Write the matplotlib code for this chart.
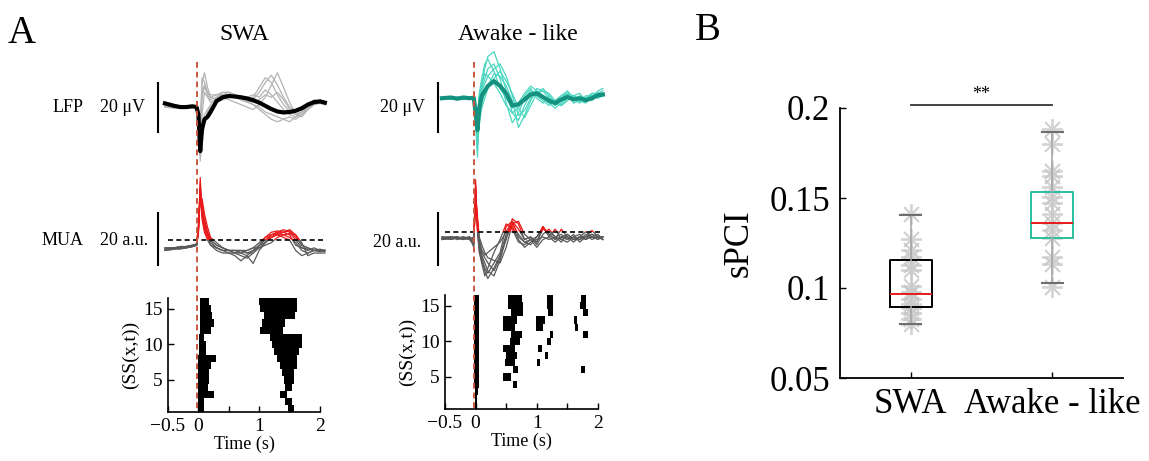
import numpy as np
import matplotlib.pyplot as plt
from matplotlib.lines import Line2D
from matplotlib.patches import Rectangle
import matplotlib.transforms as mtransforms

plt.rcParams['font.family'] = ['Liberation Serif', 'DejaVu Serif']

# ---------- data ----------
t = [-0.55, -0.4, -0.3, -0.2, -0.1, -0.03, 0.0, 0.03, 0.06, 0.1, 0.15, 0.2, 0.3, 0.4, 0.5,
     0.6, 0.7, 0.8, 0.9, 1.0, 1.1, 1.2, 1.3, 1.4, 1.5, 1.6, 1.7, 1.8, 1.9, 2.0, 2.08]

# LFP (uV), SWA
lfp_swa_mean = [1.5, 0.5, 0, 0, 0.3, 0, -3, -18, -9, -5, -4, -2, 2.5, 4, 4.5,
                4.3, 4, 3.5, 2.8, 1.8, 0.5, -0.8, -1.8, -2.2, -2, -1.5, -0.5, 1, 2, 2.3, 1.8]
lfp_swa_trials = [
    [0.5, 0, -0.5, 0, 0.5, 0, -5, -12, 10, 14, 8, 4, 3, 4, 5, 4, 3, 2, 3, 6, 10, 13, 9, 4, 0, -2, -1, 1, 2, 2, 1],
    [1, 0.5, 0, 0.5, 0, 0, -6, -20, -3, 6, 4, 2, 3, 4, 3, 2, 1, 0, -1, 1, 4, 9, 14, 8, 2, -3, -4, -1, 1, 2, 2],
    [1, 1, 0.5, 0, 0, -0.5, -2, -15, -8, -3, -1, 1, 4, 6, 6, 5, 4, 3, 1, -1, -3, -5, -6, -5, -6, -4, -2, 0, 1, 2, 1],
    [0, -0.5, 0, 0.5, 0.5, 0, -4, -10, 4, 8, 6, 5, 5, 5, 6, 5, 4, 4, 5, 4, 7, 5, 2, -1, -3, -4, -3, 0, 3, 2.5, 2],
    [1.5, 1, 0, -0.5, 0, 0, -3, -22, -12, -6, -2, 0, 2, 3, 4, 4, 3, 2, 1, 0, -2, -3, -4, -5, -4, -5, -3, -1, 1, 2, 1.5],
    [0.5, 0.5, 0.5, 0, 0, 0, -2, -8, 12, 10, 6, 4, 5, 6, 6, 5, 4, 3, 2, 3, 5, 4, 6, 3, -1, -3, -2, 0, 2, 3, 2],
    [0, 0.5, 0, 0, 0.5, 0, -3, -14, 6, 9, 5, 3, 4, 5, 5, 4, 3, 3, 4, 8, 12, 10, 5, 1, -2, -3, -2, 0, 1, 1.5, 1],
]

# LFP (uV), awake-like
lfp_awk_mean = [0, 0.3, -0.2, 0.3, 0, 0.2, -6, -13, -4, 1, 3, 5, 7, 5, 2,
                -3, -2.5, -0.5, 1.5, 2, 0.5, -1, -2, -0.5, 0.5, -0.5, 0, -0.8, 0, 1.2, 1.5]
lfp_awk_trials = [
    [0, 0.5, 0, 0.5, -0.5, 0, -10, -24, -6, 5, 12, 17, 19, 12, 3, -6, -9, -3, 2, 3, 1, -2, -4, -2, 1, 0, -1, -2, 1, 2, 3],
    [0.5, 0, -0.5, 0, 0.5, 0, -5, -15, -2, 4, 8, 12, 14, 8, -2, -10, -6, 0, 3, 1, -1, -3, -1, 1, 2, -1, 1, 0, -1, 2, 1],
    [0, -0.5, 0.5, 0, 0, 0.5, -8, -18, -8, -2, 2, 5, 10, 9, 5, -1, -12, -7, -1, 4, 3, 0, -3, 0, 2, -2, -1, 0, 2, 1, 2],
    [-0.5, 0, 0, 0.5, 0, 0, -4, -10, 0, 6, 10, 9, 6, 2, -3, -6, -4, 1, 4, 0, -2, 1, -2, -3, 0, 1, 2, -1, 0, 3, 4],
    [0.5, 0.5, 0, -0.5, 0, 0, -7, -20, -10, -4, 0, 4, 8, 11, 7, 2, -4, -8, -3, 2, 3, 2, -1, 1, 3, 0, -2, 1, 1, 0, 1],
    [0, 0, 0.5, 0, 0.5, 0, -3, -8, 2, 8, 14, 16, 11, 4, 0, -4, -2, 2, 5, 3, 0, -2, -1, -3, -1, 1, 0, -1, 2, 2, 2],
    [0.3, -0.3, 0, 0.3, 0, 0, -5, -12, -3, 3, 6, 9, 12, 14, 9, 1, -7, -5, 0, 2, 4, 1, -2, -1, 2, 1, -1, 0, 1, 2, 2],
]

# MUA (a.u., relative to threshold), SWA
mua_swa = [
    [-3.5, -3, -2.5, -2.5, -2, -2, 3, 22, 12, 6, 2, -1, -3, -4, -4, -4, -5, -4, -3, -1, 1, 3, 3.5, 3, 2, -2, -3, -3.5, -4, -4, -4],
    [-4, -3.5, -3, -3, -2.5, -2, 5, 18, 14, 8, 3, 0, -2, -3, -4, -4, -4, -5, -5, -2, 0, 2, 3, 4, 3, 0, -3, -4, -3, -4, -4.5],
    [-3, -3, -3, -2.5, -2, -1.5, 2, 24, 8, 3, 0, -2, -4, -5, -5, -6, -8, -6, -4, -2, 1, 2, 2, 1, 0, -4, -6, -5, -4, -4, -4],
    [-3.5, -3, -3, -2.5, -2.5, -2, 4, 15, 16, 10, 5, 1, -1, -3, -4, -5, -5, -6, -9, -4, -1, 1, 2, 3, 3.5, 1, -2, -3, -4, -4.5, -4],
    [-4, -3.5, -3.5, -3, -2.5, -2, 3, 20, 10, 4, 1, -2, -3, -4, -5, -5, -4, -4, -3, -3, -2, -1, 1, 2, 2.5, 2, -1, -6, -5, -5, -5],
    [-3, -3, -2.5, -2.5, -2, -1.5, 6, 16, 11, 7, 3, 0, -2, -3, -4, -4, -4, -5, -4, -2, -1, 2, 3, 3, 4, 2, -2, -3, -4, -3.5, -4],
    [-3.5, -3, -3, -3, -2.5, -2, 4, 19, 9, 5, 2, -1, -3, -4, -4, -5, -6, -7, -5, -3, -1, 1, 2.5, 2, 1, -1, -4, -5, -4, -4, -4],
]

# MUA (a.u., relative to threshold), awake-like
mua_awk = [
    [-2.5, -2, -2.5, -2, -2.5, -4, 18, 2, -6, -10, -14, -16, -12, -8, 2, 4, -2, -4, -5, -2, 2, -1, -3, 1, -2, -3, -2, 0, -2, -1, -3],
    [-2, -2.5, -2, -2.5, -2, -3, 14, 4, -4, -8, -10, -12, -15, -10, -3, 5, 3, -3, -2, -5, -1, 1, -2, -4, -1, -3, -2, -3, -1, -2, -2],
    [-3, -2.5, -2, -3, -2, -6, 20, 0, -8, -12, -17, -14, -8, -3, 3, 1, -4, -5, -3, -6, -3, -2, -4, -2, -3, -1, -4, -2, 0.5, -2, -3],
    [-2.5, -3, -2.5, -2, -3, -2, 10, 5, -2, -5, -8, -10, -11, -12, -6, 3, 4, -1, -3, -4, 2, -2, 1, -3, -4, -2, -3, -1, -3, -2, -2],
    [-2, -2, -3, -2.5, -2, -5, 16, 3, -5, -9, -12, -15, -17, -11, -2, 2, -3, -6, -4, -3, -2, -3, -2, -1, -3, -2, -1, -3, -2, -3, -2],
    [-3, -2.5, -2.5, -3, -2.5, -3, 12, 6, -3, -7, -9, -8, -6, -4, 0, 4, 1, -3, -2, -4, 1, 0, -2, -3, -2, -4, -2, -2, -1, -2, -3],
    [-2.5, -2, -2, -2.5, -3, -5, 17, 1, -7, -11, -15, -18, -14, -9, -1, 3, -1, -4, -3, -2, 1.5, -1, -3, -2, -1, -3, -3, -2, -2, -2.5, -2],
]

# Raster: active (start, end) intervals per channel 1..16
swa_raster = {
    1: [(0.0, 0.10), (1.48, 1.57)], 2: [(0.0, 0.10), (1.43, 1.54)],
    3: [(0.0, 0.26), (1.35, 1.45)], 4: [(0.0, 0.16), (1.43, 1.54)],
    5: [(0.0, 0.18), (1.40, 1.57)], 6: [(0.0, 0.18), (1.38, 1.57)],
    7: [(0.0, 0.20), (1.35, 1.62)], 8: [(0.0, 0.29), (1.29, 1.62)],
    9: [(0.01, 0.12), (1.24, 1.65)], 10: [(0.01, 0.12), (1.21, 1.70)],
    11: [(0.01, 0.10), (1.18, 1.70)], 12: [(0.02, 0.20), (1.02, 1.39)],
    13: [(0.02, 0.26), (1.05, 1.42)], 14: [(0.03, 0.22), (1.08, 1.59)],
    15: [(0.03, 0.20), (1.02, 1.62)], 16: [(0.03, 0.18), (0.99, 1.62)],
}
awk_raster = {
    1: [(-0.01, 0.03)], 2: [(-0.01, 0.03)], 3: [(-0.01, 0.04)],
    4: [(-0.02, 0.05), (0.61, 0.67)], 5: [(-0.02, 0.05), (0.45, 0.58)],
    6: [(-0.02, 0.05), (0.61, 0.69), (1.73, 1.79)],
    7: [(-0.02, 0.05), (0.48, 0.64), (1.01, 1.06)],
    8: [(-0.02, 0.05), (0.50, 0.67), (1.13, 1.19)],
    9: [(-0.02, 0.05), (0.45, 0.64), (1.02, 1.08)],
    10: [(-0.02, 0.05), (0.56, 0.72), (1.16, 1.24)],
    11: [(-0.02, 0.05), (0.58, 0.75), (1.21, 1.27), (1.76, 1.84)],
    12: [(-0.02, 0.05), (0.45, 0.64), (0.99, 1.10), (1.62, 1.68)],
    13: [(-0.02, 0.05), (0.45, 0.67), (0.99, 1.13), (1.60, 1.65)],
    14: [(-0.02, 0.05), (0.58, 0.78), (1.19, 1.27), (1.76, 1.84)],
    15: [(-0.02, 0.05), (0.53, 0.78), (1.16, 1.27), (1.70, 1.80)],
    16: [(-0.02, 0.05), (0.53, 0.75), (1.16, 1.27), (1.73, 1.81)],
}

# sPCI
groups = ["SWA", "Awake - like"]
spci_swa = [0.141, 0.127, 0.121, 0.117, 0.113, 0.110, 0.101, 0.098, 0.097, 0.094,
            0.091, 0.089, 0.086, 0.083, 0.080]
spci_awk = [0.1885, 0.180, 0.165, 0.162, 0.156, 0.1506, 0.147, 0.141, 0.136, 0.132,
            0.128, 0.117, 0.1135, 0.1006]
box_swa = dict(med=0.0969, q1=0.0894, q3=0.1157, whislo=0.0802, whishi=0.1407, fliers=[])
box_awk = dict(med=0.1363, q1=0.128, q3=0.1531, whislo=0.1026, whishi=0.1867, fliers=[])

# ---------- figure ----------
W, H = 1149, 461
fig = plt.figure(figsize=(W / 100, H / 100), dpi=100)


def fax(x0, y0, x1, y1):
    return fig.add_axes([x0 / W, 1 - y1 / H, (x1 - x0) / W, (y1 - y0) / H])


TEAL_L = "#4ad6c0"
TEAL_D = "#15917f"
RED = "#e8191a"
DASH = "#c8583f"


def scale_bar(ax, x, y0, y1):
    ax.plot([x, x], [y0, y1], color="black", lw=1.5, clip_on=False)


def mua_traces(ax, traces):
    for tr in traces:
        below = Rectangle((-1, -100), 4, 100, transform=ax.transData)
        above = Rectangle((-1, 0), 4, 100, transform=ax.transData)
        l1, = ax.plot(t, tr, color="#5a5a5a", lw=0.9)
        l1.set_clip_path(below)
        l2, = ax.plot(t, tr, color=RED, lw=0.9)
        l2.set_clip_path(above)
    ax.plot([-0.5, 2.08], [0, 0], color="black", lw=1.2, ls=(0, (3, 2)), clip_on=False)


def raster(ax, data):
    for ch, segs in data.items():
        ax.broken_barh([(a, b - a) for a, b in segs], (ch - 0.5, 1), facecolors="black")
    ax.set_xlim(-0.5, 2)
    ax.set_ylim(0.5, 16.5)
    ax.set_xticks([-0.5, 0, 1, 2], ["\u22120.5", "0", "1", "2"])
    ax.set_xticks([0.5, 1.5], minor=True)
    ax.set_yticks([5, 10, 15])
    ax.tick_params(direction="in", labelsize=14, length=4, width=1, pad=4)
    ax.tick_params(which="minor", direction="in", length=4, width=1)
    for s in ["top", "right"]:
        ax.spines[s].set_visible(False)
    for s in ["left", "bottom"]:
        ax.spines[s].set_linewidth(1.2)
    ax.set_xlabel("Time (s)", fontsize=13, labelpad=1)
    ax.set_ylabel("(SS(x,t))", fontsize=14, labelpad=3)


# --- SWA column ---
ax1 = fax(168, 60, 320, 160)
ax1.set_xlim(-0.5, 2)
ax1.set_ylim(-21.6, 19.2)
ax1.axis("off")
for tr in lfp_swa_trials:
    ax1.plot(t, tr, color="#b4b4b4", lw=0.9, clip_on=False)
ax1.plot(t, lfp_swa_mean, color="black", lw=3, clip_on=False)
scale_bar(ax1, -0.66, -10.2, 9.8)

ax2 = fax(168, 175, 320, 290)
ax2.set_xlim(-0.5, 2)
ax2.set_ylim(-19.2, 25)
ax2.axis("off")
mua_traces(ax2, mua_swa)
scale_bar(ax2, -0.66, -9.6, 10.4)

ax3 = fax(168, 298, 320, 412)
raster(ax3, swa_raster)

# --- awake column ---
ax4 = fax(445, 60, 598, 160)
ax4.set_xlim(-0.5, 2)
ax4.set_ylim(-25.2, 15.6)
ax4.axis("off")
for tr in lfp_awk_trials:
    ax4.plot(t, tr, color=TEAL_L, lw=0.9, clip_on=False)
ax4.plot(t, lfp_awk_mean, color=TEAL_D, lw=3, clip_on=False)
scale_bar(ax4, -0.61, -13.8, 6.2)

ax5 = fax(445, 175, 598, 290)
ax5.set_xlim(-0.5, 2)
ax5.set_ylim(-22.4, 21.8)
ax5.axis("off")
mua_traces(ax5, mua_awk)
scale_bar(ax5, -0.61, -12.8, 7.2)

ax6 = fax(445, 295, 598, 409)
raster(ax6, awk_raster)

# stimulus onset lines spanning each column
for ax_r, y_bot in [(ax3, 412), (ax6, 409)]:
    tr_ = mtransforms.blended_transform_factory(ax_r.transData, fig.transFigure)
    fig.add_artist(Line2D([-0.03, -0.03], [1 - 62 / H, 1 - y_bot / H], transform=tr_,
                          color=DASH, lw=1.4, ls=(0, (3, 2))))

# labels panel A
fig.text(8 / W, 1 - 33 / H, "A", fontsize=28, va="center", ha="left")
fig.text(244 / W, 1 - 35 / H, "SWA", fontsize=17, va="center", ha="center")
fig.text(518 / W, 1 - 35 / H, "Awake - like", fontsize=17, va="center", ha="center")
fig.text(53 / W, 1 - 107 / H, "LFP", fontsize=13, va="center", ha="left")
fig.text(100 / W, 1 - 107 / H, "20 \u03bcV", fontsize=13, va="center", ha="left")
fig.text(380 / W, 1 - 107 / H, "20 \u03bcV", fontsize=13, va="center", ha="left")
fig.text(42 / W, 1 - 240 / H, "MUA", fontsize=13, va="center", ha="left")
fig.text(100 / W, 1 - 240 / H, "20 a.u.", fontsize=13, va="center", ha="left")
fig.text(373 / W, 1 - 242 / H, "20 a.u.", fontsize=13, va="center", ha="left")

# ---------- panel B ----------
axb = fax(840, 108, 1123, 378)
rng_pos = [1, 2]
for pos, vals in zip(rng_pos, [spci_swa, spci_awk]):
    axb.plot([pos] * len(vals), vals, ls="none", marker=(8, 2, 0), ms=15,
             mec="#c8c8c8", mew=1.3, alpha=0.8, zorder=1)

for pos, st, col in [(1, box_swa, "black"), (2, box_awk, "#2bbf9f")]:
    axb.bxp([st], positions=[pos], widths=0.3, capwidths=0.15, manage_ticks=False,
            boxprops=dict(color=col, lw=1.4),
            medianprops=dict(color=RED, lw=1.4),
            whiskerprops=dict(color="#a8a8a8", lw=1.2),
            capprops=dict(color="#6e6e6e", lw=1.5), zorder=2)

axb.set_xlim(0.5, 2.5)
axb.set_ylim(0.05, 0.2)
axb.set_xticks(rng_pos, groups)
axb.set_yticks([0.05, 0.1, 0.15, 0.2], ["0.05", "0.1", "0.15", "0.2"])
axb.tick_params(direction="in", labelsize=25, length=4, width=1, pad=7)
for s in ["top", "right"]:
    axb.spines[s].set_visible(False)
for s in ["left", "bottom"]:
    axb.spines[s].set_linewidth(1.3)
axb.set_ylabel("sPCI", fontsize=25, labelpad=10)
axb.plot([1, 2], [0.2019, 0.2019], color="#333333", lw=1.3, clip_on=False)
axb.text(1.5, 0.2075, "**", fontsize=13, ha="center", va="center", clip_on=False)
fig.text(695 / W, 1 - 30 / H, "B", fontsize=28, va="center", ha="left")

fig.savefig("out.png", dpi=100)
